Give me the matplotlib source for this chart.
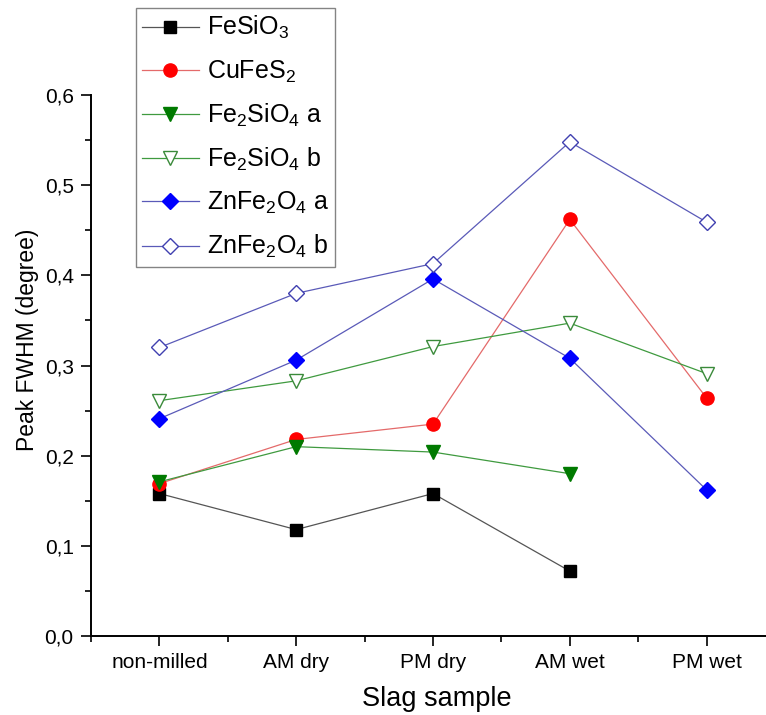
import numpy as np
import matplotlib
matplotlib.use("Agg")
import matplotlib.pyplot as plt

plt.rcParams['font.family'] = ['Liberation Sans', 'DejaVu Sans']
plt.rcParams['mathtext.fontset'] = 'custom'
plt.rcParams['mathtext.rm'] = 'Liberation Sans'
plt.rcParams['mathtext.it'] = 'Liberation Sans:italic'
plt.rcParams['mathtext.bf'] = 'Liberation Sans:bold'
plt.rcParams['mathtext.default'] = 'regular'

# Slag samples and peak FWHM values (degree)
samples = ['non-milled', 'AM dry', 'PM dry', 'AM wet', 'PM wet']
fesio3 = [0.158, 0.118, 0.158, 0.072, np.nan]
cufes2 = [0.169, 0.218, 0.235, 0.462, 0.264]
fe2sio4_a = [0.171, 0.210, 0.204, 0.180, np.nan]
fe2sio4_b = [0.261, 0.283, 0.321, 0.347, 0.291]
znfe2o4_a = [0.241, 0.306, 0.396, 0.308, 0.162]
znfe2o4_b = [0.320, 0.380, 0.413, 0.548, 0.459]

series_labels = ['FeSiO$_3$', 'CuFeS$_2$', 'Fe$_2$SiO$_4$ a', 'Fe$_2$SiO$_4$ b',
                 'ZnFe$_2$O$_4$ a', 'ZnFe$_2$O$_4$ b']
y_ticks = [0.0, 0.1, 0.2, 0.3, 0.4, 0.5, 0.6]
y_ticklabels = ['0,0', '0,1', '0,2', '0,3', '0,4', '0,5', '0,6']

styles = [
    dict(marker='s', ms=8.5, mfc='black', mec='black', color='#555555'),
    dict(marker='o', ms=9.5, mfc='#ff0000', mec='#ff0000', color='#e46a6a'),
    dict(marker='v', ms=10, mfc='#007a00', mec='#007a00', color='#3f9a3f'),
    dict(marker='v', ms=10, mfc='white', mec='#3a8a3a', mew=1.0, color='#3f9a3f'),
    dict(marker='D', ms=8.5, mfc='#0000ff', mec='#0000ff', color='#5a5ab8'),
    dict(marker='D', ms=8.5, mfc='white', mec='#4040b0', mew=1.0, color='#5a5ab8'),
]

W, H = 766, 715
fig = plt.figure(figsize=(W / 100, H / 100), dpi=100)
left_px, right_px, top_px, bottom_px = 91, 775, 95, 636
ax = fig.add_axes([left_px / W, 1 - bottom_px / H,
                   (right_px - left_px) / W, (bottom_px - top_px) / H])

x = np.arange(len(samples))
all_series = [fesio3, cufes2, fe2sio4_a, fe2sio4_b, znfe2o4_a, znfe2o4_b]
for vals, lab, st in zip(all_series, series_labels, styles):
    ax.plot(x, vals, lw=0.9, label=lab, clip_on=False, **st)

ax.set_xlim(-0.5, 4.5)
ax.set_ylim(0, 0.6)
ax.set_xticks(x)
ax.set_xticklabels(samples)
ax.set_xticks(np.arange(-0.5, 4.6, 1.0), minor=True)
ax.set_yticks(y_ticks)
ax.set_yticklabels(y_ticklabels)
ax.set_yticks(np.arange(0.05, 0.6, 0.1), minor=True)

for side in ['top', 'right']:
    ax.spines[side].set_visible(False)
for side in ['left', 'bottom']:
    ax.spines[side].set_linewidth(1.4)

ax.tick_params(which='major', direction='out', length=7.5, width=1.2,
               labelsize=15, pad=5)
ax.tick_params(which='minor', direction='out', length=4, width=1.2)

ax.set_xlabel('Slag sample', fontsize=19.5)
ax.set_ylabel('Peak FWHM (degree)', fontsize=16.5)
ax.xaxis.set_label_coords(0.505, -0.092)
ax.yaxis.set_label_coords(-0.076, 0.547)

leg = ax.legend(loc='upper left', bbox_to_anchor=(136 / W, 1 - 8 / H),
                bbox_transform=fig.transFigure, fontsize=18, frameon=True,
                fancybox=False, shadow=False, numpoints=1, handlelength=2.25,
                handletextpad=0.35, borderpad=0.25, labelspacing=0.68,
                borderaxespad=0)
leg.get_frame().set_edgecolor('#666666')
leg.get_frame().set_linewidth(1.0)

fig.savefig('out.png', dpi=100)
